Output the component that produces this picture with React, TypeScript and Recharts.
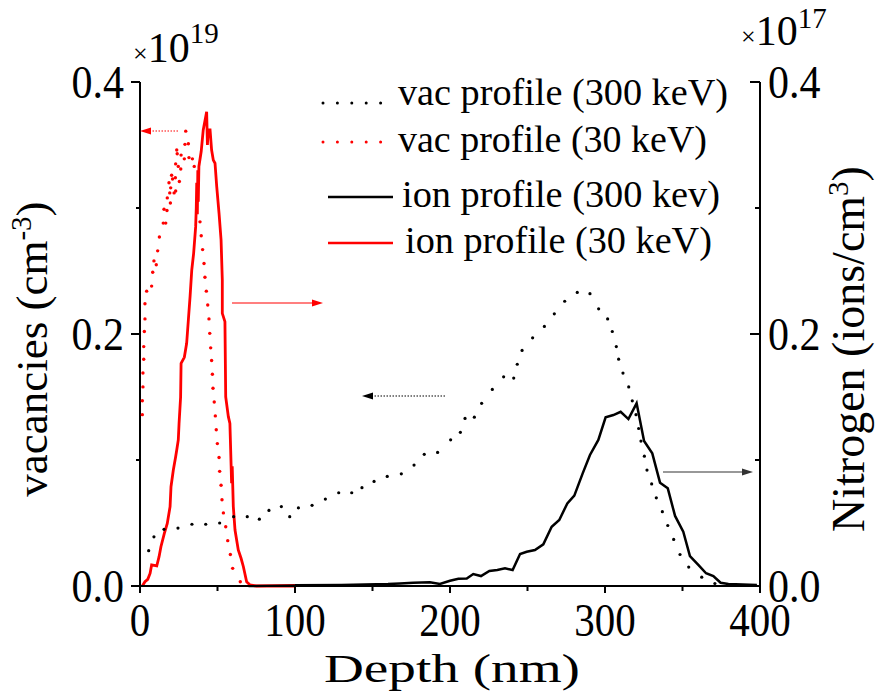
import { ComposedChart, Line, XAxis, YAxis } from 'recharts'

// depth (nm) -> vacancies (x1e19 cm^-3), 300 keV implant
const vac300Depth = [5.6, 9, 15.5, 24.5, 33.5, 42.4, 51.4, 60.4, 69.2, 77, 83.2, 91.2, 96.6, 102.2, 111, 119.6, 128.2, 136.6, 143.2, 151, 159.5, 168.6, 176.8, 183.4, 192, 200.4, 206.7, 209.7, 215.7, 220.4, 227.3, 234.6, 241.1, 243.4, 246.5, 253.3, 260.9, 267.3, 274, 282.1, 290.3, 295.9, 301.7, 304.7, 307.3, 308.8, 311.6, 315.3, 317.6, 320, 321.7, 323.2, 325.4, 327.1, 330.1, 333.1, 337, 340.5, 344.3, 348.4, 354, 362.4, 370.9]
const vac300Value = [0.028, 0.039, 0.045, 0.046, 0.049, 0.049, 0.05, 0.055, 0.055, 0.053, 0.06, 0.063, 0.055, 0.062, 0.064, 0.069, 0.074, 0.074, 0.078, 0.083, 0.087, 0.089, 0.096, 0.1045, 0.106, 0.116, 0.122, 0.133, 0.134, 0.145, 0.156, 0.166, 0.165, 0.176, 0.187, 0.197, 0.206, 0.216, 0.226, 0.233, 0.232, 0.22, 0.212, 0.202, 0.19, 0.18, 0.169, 0.158, 0.147, 0.136, 0.125, 0.115, 0.103, 0.092, 0.081, 0.07, 0.059, 0.048, 0.037, 0.025, 0.015, 0.007, 0.002]

// 30 keV implant vacancies
const vac30Depth = [1.5, 1.5, 1.9, 1.9, 2.4, 2.4, 2.8, 3.2, 3.2, 4.3, 7.5, 8.2, 9, 10.5, 11.4, 12.5, 15, 16.6, 15.5, 17.4, 19.6, 17.6, 19.2, 22, 23, 19.8, 18.7, 25.4, 21, 22.8, 20.4, 26.3, 24.7, 23, 33.8, 28.6, 31.6, 26.5, 24, 23.7, 29, 31.2, 29.5, 35, 38.7, 39.5, 40.4, 41.3, 41.9, 42.8, 43.7, 44.5, 45, 45.6, 46.2, 46.7, 47.1, 47.9, 48.6, 49.2, 49.9, 51, 51.4, 52.3, 52.9, 53.8, 55.3, 56.6, 58.3, 59.8, 64.7]
const vac30Value = [0.136, 0.147, 0.158, 0.169, 0.18, 0.19, 0.202, 0.212, 0.224, 0.234, 0.238, 0.249, 0.258, 0.255, 0.266, 0.277, 0.288, 0.288, 0.299, 0.298, 0.304, 0.308, 0.312, 0.312, 0.3135, 0.316, 0.32, 0.321, 0.323, 0.324, 0.326, 0.331, 0.333, 0.335, 0.339, 0.339, 0.34, 0.342, 0.343, 0.346, 0.3505, 0.351, 0.361, 0.333, 0.289, 0.278, 0.267, 0.256, 0.245, 0.234, 0.223, 0.212, 0.2005, 0.189, 0.179, 0.168, 0.157, 0.146, 0.135, 0.124, 0.113, 0.102, 0.091, 0.08, 0.0685, 0.058, 0.047, 0.036, 0.025, 0.014, 0.0034]

// nitrogen (x1e17 ions/cm^3), 300 keV
const ion300Depth = [70, 100, 130, 160, 167.7, 176.3, 187, 193.5, 200, 205.4, 210.8, 215, 220, 225.4, 230.5, 235.5, 240.4, 245.2, 249.5, 254.8, 260.2, 265.6, 270.5, 275.7, 280.2, 285.6, 290.3, 295.7, 300.4, 305.4, 310.1, 315.1, 320.4, 325.2, 330.5, 335.5, 340.5, 345.2, 350.5, 354.8, 360.2, 365.2, 369.9, 374.6, 379.6, 398]
const ion300Value = [0, 0.0005, 0.0008, 0.0015, 0.002, 0.0026, 0.003, 0.0016, 0.0042, 0.0058, 0.006, 0.0095, 0.0079, 0.0119, 0.0127, 0.014, 0.0127, 0.0254, 0.0272, 0.0286, 0.0331, 0.047, 0.0524, 0.0656, 0.0717, 0.0894, 0.104, 0.1159, 0.1339, 0.1357, 0.1383, 0.1325, 0.145, 0.1151, 0.1053, 0.082, 0.0775, 0.0556, 0.0431, 0.0238, 0.0167, 0.0101, 0.0079, 0.0026, 0.0016, 0.0008]

// nitrogen, 30 keV
const ion30Depth = [1.5, 3.2, 5, 6.5, 7.5, 10.8, 12.3, 13.5, 15.7, 17.6, 19.4, 20, 21.5, 23, 23.7, 24.7, 25.2, 26.2, 26.5, 28.6, 30.1, 31.2, 32.3, 33.4, 34.6, 35.9, 36.3, 36.6, 37, 37.3, 37.6, 38, 39.5, 40.8, 43, 43.5, 44, 45.2, 46.2, 47.3, 48.4, 49.5, 51, 52.3, 53.1, 53.1, 54.8, 55.3, 57, 58, 58.5, 59.1, 59.5, 60.2, 61.3, 63.4, 65.2, 66.7, 68.8, 71, 75, 100]
const ion30Value = [0, 0.0034, 0.0053, 0.01, 0.0167, 0.0159, 0.0233, 0.0312, 0.0418, 0.0497, 0.063, 0.0788, 0.092, 0.1026, 0.108, 0.1159, 0.129, 0.15, 0.1767, 0.1815, 0.1926, 0.2111, 0.2296, 0.2508, 0.264, 0.285, 0.3, 0.32, 0.295, 0.33, 0.305, 0.333, 0.345, 0.362, 0.3764, 0.35, 0.362, 0.362, 0.346, 0.338, 0.3355, 0.317, 0.2958, 0.2746, 0.2429, 0.2164, 0.2098, 0.15, 0.1344, 0.129, 0.108, 0.0815, 0.095, 0.063, 0.0444, 0.0286, 0.022, 0.0153, 0.0034, 0.0008, 0, 0]

const xTicks = [0, 50, 100, 150, 200, 250, 300, 350, 400]
const yTicks = [0, 0.1, 0.2, 0.3, 0.4]

const legendLabels = ['vac profile (300 keV)', 'vac profile (30 keV)', 'ion profile (300 kev)', 'ion profile (30 keV)']

const zip = (xs: number[], ys: number[]) => xs.map((x, i) => ({ x, y: ys[i] }))

const vac300 = zip(vac300Depth, vac300Value)
const vac30 = zip(vac30Depth, vac30Value)
const ion300 = zip(ion300Depth, ion300Value)
const ion30 = zip(ion30Depth, ion30Value)

const FONT = '"Liberation Serif", "Times New Roman", serif'
const RED = '#ff0000'

const isMajorY = (v: number) => Math.round(v * 10) % 2 === 0

// tick labels in the original are a little taller than plain Times
function TallText({ x, y, anchor, size = 42, children }: any) {
  return (
    <g transform={`translate(${x},${y}) scale(1,1.12)`}>
      <text x={0} y={0} textAnchor={anchor} fontSize={size} fontFamily={FONT} fill="#000">
        {children}
      </text>
    </g>
  )
}

function LeftTick({ x, y, payload }: any) {
  const major = isMajorY(payload.value)
  return (
    <g>
      <line x1={x - (major ? 9 : 4)} x2={x} y1={y} y2={y} stroke="#000" strokeWidth={2} />
      {major && <TallText x={x - 16} y={y + 15.5} anchor="end">{payload.value.toFixed(1)}</TallText>}
    </g>
  )
}

function RightTick({ x, y, payload }: any) {
  const major = isMajorY(payload.value)
  return (
    <g>
      <line x1={x - (major ? 10 : 5)} x2={x} y1={y} y2={y} stroke="#000" strokeWidth={2} />
      {major && <TallText x={x + 8} y={y + 15.5} anchor="start">{payload.value.toFixed(1)}</TallText>}
    </g>
  )
}

function BottomTick({ x, y, payload }: any) {
  const major = payload.value % 100 === 0
  return (
    <g>
      <line x1={x} x2={x} y1={y} y2={y + (major ? 7 : 5)} stroke="#000" strokeWidth={2} />
      {major && <TallText x={x} y={y + 50} anchor="middle" size={41}>{payload.value}</TallText>}
    </g>
  )
}

function Arrow({ x1, x2, y, color, dotted }: { x1: number; x2: number; y: number; color: string; dotted?: boolean }) {
  const dir = x2 > x1 ? 1 : -1
  const len = 11
  return (
    <g>
      <line x1={x1} x2={x2 - dir * len} y1={y} y2={y} stroke={color} strokeWidth={1.2} strokeDasharray={dotted ? '1.5 1.5' : undefined} />
      <polygon points={`${x2},${y} ${x2 - dir * len},${y - 3.5} ${x2 - dir * len},${y + 3.5}`} fill={color} />
    </g>
  )
}

function Overlay() {
  const rows = [
    { y: 103, ty: 105, tx: 398, w: 330, color: '#000', dotted: true },
    { y: 142, ty: 152, tx: 398, w: 309, color: RED, dotted: true },
    { y: 197, ty: 207, tx: 402, w: 318, color: '#000', dotted: false },
    { y: 243, ty: 253, tx: 405, w: 307, color: RED, dotted: false },
  ]
  return (
    <svg width={875} height={696} style={{ position: 'absolute', left: 0, top: 0, pointerEvents: 'none' }} fontFamily={FONT}>
      {rows.map((r, i) => (
        <g key={i}>
          {r.dotted ? (
            <line x1={323} x2={381} y1={r.y} y2={r.y} stroke={r.color} strokeWidth={3} strokeLinecap="round" strokeDasharray="0 14.4" />
          ) : (
            <line x1={328} x2={393} y1={r.y} y2={r.y} stroke={r.color} strokeWidth={2.5} />
          )}
          <text x={r.tx} y={r.ty} fontSize={37} fill="#000" textLength={r.w} lengthAdjust="spacingAndGlyphs">
            {legendLabels[i]}
          </text>
        </g>
      ))}

      <Arrow x1={178} x2={140} y={131} color={RED} dotted />
      <Arrow x1={232} x2={323} y={303} color={RED} />
      <Arrow x1={445} x2={362} y={396} color="#000" dotted />
      <Arrow x1={663} x2={753} y={472} color="#333" />

      <text x={133} y={62} fill="#000">
        <tspan fontSize={26}>×</tspan>
        <tspan fontSize={42}>10</tspan>
        <tspan fontSize={29} dy={-19}>19</tspan>
      </text>
      <text x={741} y={45} fill="#000">
        <tspan fontSize={26}>×</tspan>
        <tspan fontSize={42}>10</tspan>
        <tspan fontSize={29} dy={-17}>17</tspan>
      </text>

      <text x={452} y={682} textAnchor="middle" fontSize={41} fill="#000" textLength={256} lengthAdjust="spacingAndGlyphs">
        Depth (nm)
      </text>
      <text transform="translate(47,349) rotate(-90)" textAnchor="middle" fontSize={45} fill="#000">
        vacancies (cm<tspan fontSize={29} dy={-16}>-3</tspan><tspan dy={16}>)</tspan>
      </text>
      <text transform="translate(864,349) rotate(-90)" textAnchor="middle" fontSize={46} fill="#000">
        Nitrogen (ions/cm<tspan fontSize={29} dy={-16}>3</tspan><tspan dy={16}>)</tspan>
      </text>
    </svg>
  )
}

export default function App() {
  return (
    <div style={{ position: 'absolute', left: 0, top: 0, width: 875, height: 696, background: '#fff' }}>
      <ComposedChart width={875} height={696} margin={{ top: 82, right: 55, bottom: 50, left: 80 }}>
        <XAxis
          type="number"
          dataKey="x"
          domain={[0, 400]}
          ticks={xTicks}
          interval={0}
          tickSize={0}
          tickMargin={0}
          height={60}
          stroke="#000"
          strokeWidth={2}
          tick={(p: any) => <BottomTick {...p} />}
        />
        <YAxis
          yAxisId="left"
          type="number"
          domain={[0, 0.4]}
          ticks={yTicks}
          interval={0}
          width={60}
          tickSize={0}
          tickMargin={0}
          stroke="#000"
          strokeWidth={2}
          tick={(p: any) => <LeftTick {...p} />}
        />
        <YAxis
          yAxisId="right"
          orientation="right"
          type="number"
          domain={[0, 0.4]}
          ticks={yTicks}
          interval={0}
          width={60}
          tickSize={0}
          tickMargin={0}
          stroke="#000"
          strokeWidth={2}
          tick={(p: any) => <RightTick {...p} />}
        />
        <Line
          yAxisId="left"
          data={vac300}
          dataKey="y"
          stroke="none"
          dot={{ r: 1.6, fill: '#000', stroke: 'none' }}
          activeDot={false}
          isAnimationActive={false}
        />
        <Line
          yAxisId="left"
          data={vac30}
          dataKey="y"
          stroke="none"
          dot={{ r: 1.7, fill: RED, stroke: 'none' }}
          activeDot={false}
          isAnimationActive={false}
        />
        <Line
          yAxisId="right"
          data={ion300}
          dataKey="y"
          type="linear"
          stroke="#000"
          strokeWidth={2.5}
          dot={false}
          activeDot={false}
          isAnimationActive={false}
        />
        <Line
          yAxisId="right"
          data={ion30}
          dataKey="y"
          type="linear"
          stroke={RED}
          strokeWidth={2.8}
          dot={false}
          activeDot={false}
          isAnimationActive={false}
        />
      </ComposedChart>
      <Overlay />
    </div>
  )
}
